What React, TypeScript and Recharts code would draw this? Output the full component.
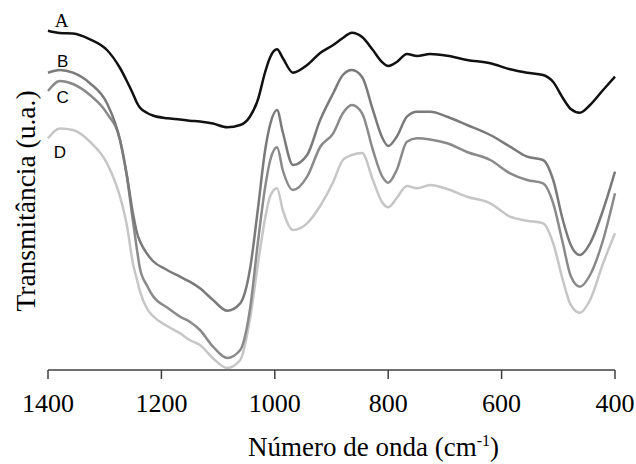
import React from 'react';
import { LineChart, Line, XAxis, YAxis, Label, ReferenceDot } from 'recharts';

// wavenumbers (cm-1)
const wavenumbers = [
  1400, 1379, 1356, 1326, 1296, 1273, 1261, 1250, 1243, 1238,
  1225, 1215, 1190, 1167, 1150, 1132, 1109, 1084, 1061, 1044,
  1030, 1017, 1008, 996, 986, 968, 943, 920, 897, 880,
  864, 846, 827, 811, 800, 785, 767, 749, 726, 696,
  661, 620, 585, 555, 527, 509, 492, 478, 462, 444,
  421, 400,
];

// transmittance, arbitrary units (spectra are offset)
const seriesA = [
  339.3, 337, 336.5, 330.7, 320, 302, 289, 276, 267, 262.5,
  257, 254.5, 251.7, 250.5, 249.3, 248.5, 246.5, 242.7, 245, 253.3,
  270, 298, 313, 320.7, 312, 297.3, 305, 317, 325, 332,
  337.3, 333, 320, 308, 304, 308, 316, 314, 316, 314.3,
  310, 306.7, 300.7, 297.3, 295, 288, 272, 261, 257.3, 265,
  280, 293.3,
];
const seriesB = [
  297.3, 300, 297.3, 286.7, 266.7, 230, 195, 156, 137, 129,
  116, 109, 100, 93.3, 88.3, 81.7, 70, 59.3, 66.7, 100,
  160, 220, 246, 260, 238, 205, 215, 250, 276.7, 295,
  300, 293, 260, 233, 224, 233.3, 253.3, 258.3, 258.3, 253.3,
  245, 235, 223.3, 213.3, 210, 190, 150, 125, 115, 126.7,
  160, 198.3,
];
const seriesC = [
  279, 289, 286, 275, 256.7, 230, 194, 148, 120, 102,
  84, 74, 62.5, 53.3, 48.3, 40, 23.3, 12, 20, 60,
  126.7, 183, 210, 222.7, 200, 180, 193.3, 223, 236.7, 256.7,
  265, 256.7, 220, 194, 187.3, 200, 228.3, 231.7, 230.5, 226.7,
  218, 210, 196.7, 190, 186.7, 166.7, 126.7, 94, 83.3, 95,
  130, 176.7,
];
const seriesD = [
  231.7, 241.5, 240, 228.3, 206.7, 173.3, 145, 106, 90, 79,
  61, 54, 44, 36.7, 30, 25, 11.7, 2, 10, 50,
  105, 152, 174, 181.7, 160, 140, 146.7, 164, 188, 210,
  215, 217, 190, 168, 162.7, 172, 184, 181.7, 185, 181,
  173.3, 166.7, 153.3, 149.3, 146.7, 126.7, 90, 65, 57.3, 70,
  106.7, 136.7,
];

const xTicks = [1400, 1200, 1000, 800, 600, 400];

// where the curve letters sit (wavenumber, transmittance)
const curveLabels = [
  { name: 'A', x: 1376, y: 350 },
  { name: 'B', x: 1374, y: 309 },
  { name: 'C', x: 1374, y: 273 },
  { name: 'D', x: 1379, y: 218 },
];

const data = wavenumbers.map((w, i) => ({
  w,
  A: seriesA[i],
  B: seriesB[i],
  C: seriesC[i],
  D: seriesD[i],
}));

const serif = 'Liberation Serif';
const sans = 'Liberation Sans';

const XTitle = (props: any) => {
  const { viewBox } = props;
  const cx = viewBox.x + viewBox.width / 2 + 42;
  return (
    <text x={cx} y={456} textAnchor="middle" style={{ fontFamily: serif }} fontSize={27} fill="#000">
      <tspan>Número de onda (cm</tspan>
      <tspan dy={-10} fontSize={16}>-1</tspan>
      <tspan dy={10}>)</tspan>
    </text>
  );
};

export default function App() {
  return (
    <div style={{ position: 'absolute', left: 0, top: 0, width: 636, height: 464, background: '#fff', fontFamily: serif }}>
      <LineChart
        width={636}
        height={464}
        data={data}
        margin={{ top: 12, right: 21, bottom: 0, left: 48 }}
      >
        <XAxis
          dataKey="w"
          type="number"
          domain={[400, 1400]}
          reversed
          ticks={xTicks}
          interval={0}
          height={94}
          tickSize={9}
          tickMargin={15}
          axisLine={{ stroke: '#404040', strokeWidth: 1.5 }}
          tickLine={{ stroke: '#404040', strokeWidth: 1.5 }}
          tick={{ fontSize: 26, fill: '#000', style: { fontFamily: serif } }}
        >
          <Label content={<XTitle />} />
        </XAxis>
        <YAxis
          yAxisId="left"
          type="number"
          domain={[0, 358]}
          width={0}
          tick={false}
          tickLine={false}
          axisLine={{ stroke: '#8c8c8c', strokeWidth: 1.5 }}
        />
        <YAxis
          yAxisId="right"
          orientation="right"
          type="number"
          domain={[0, 358]}
          width={0}
          tick={false}
          tickLine={false}
          axisLine={{ stroke: '#222', strokeWidth: 1.5 }}
        />
        <Line yAxisId="left" type="monotone" dataKey="D" stroke="#c6c6c6" strokeWidth={2.5} dot={false} isAnimationActive={false} />
        <Line yAxisId="left" type="monotone" dataKey="C" stroke="#8a8a8a" strokeWidth={2.5} dot={false} isAnimationActive={false} />
        <Line yAxisId="left" type="monotone" dataKey="B" stroke="#7a7a7a" strokeWidth={2.5} dot={false} isAnimationActive={false} />
        <Line yAxisId="left" type="monotone" dataKey="A" stroke="#111" strokeWidth={2.5} dot={false} isAnimationActive={false} />
        {curveLabels.map((l) => (
          <ReferenceDot
            key={l.name}
            yAxisId="left"
            x={l.x}
            y={l.y}
            r={0}
            fill="none"
            stroke="none"
            label={{
              value: l.name,
              position: 'center',
              fill: '#000',
              fontSize: l.name === 'A' ? 19 : 17,
              style: { fontFamily: l.name === 'A' ? serif : sans },
            }}
          />
        ))}
      </LineChart>
      <svg
        width={60}
        height={464}
        style={{ position: 'absolute', left: 0, top: 0, pointerEvents: 'none' }}
      >
        <text
          x={35}
          y={201}
          transform="rotate(-90 35 201)"
          textAnchor="middle"
          style={{ fontFamily: serif }}
          fontSize={27.5}
          fill="#000"
        >
          Transmitância (u.a.)
        </text>
      </svg>
    </div>
  );
}
